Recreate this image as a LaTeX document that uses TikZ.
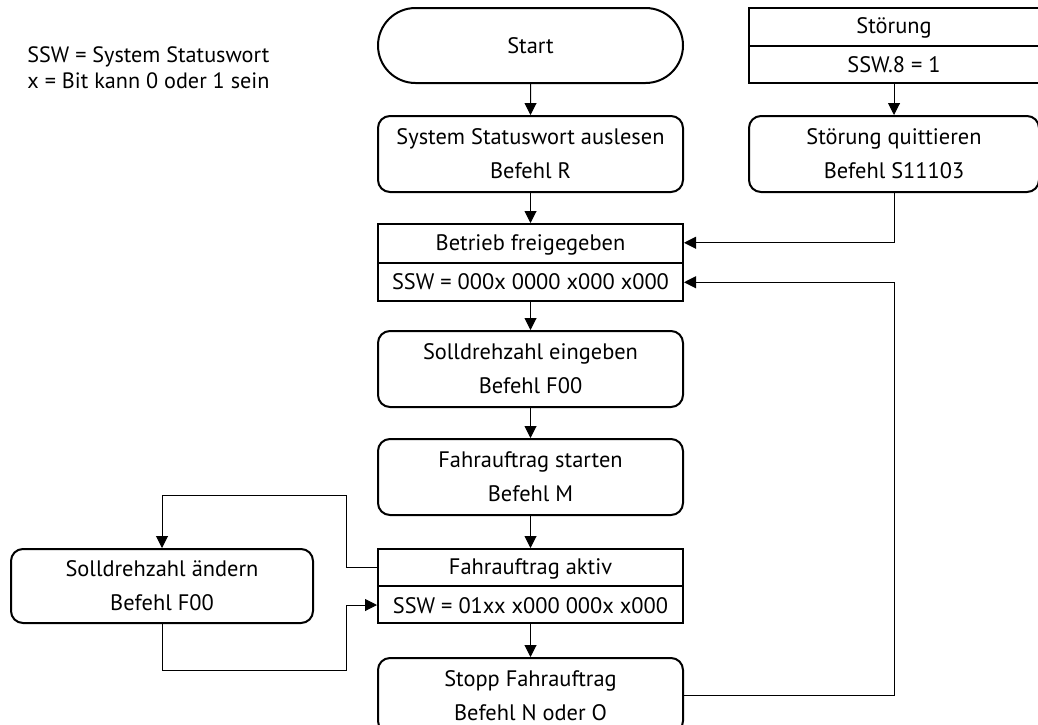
\documentclass[tikz,border=0pt]{standalone}
\usepackage{fontspec}
\setmainfont{PT Sans}
\usetikzlibrary{arrows.meta, positioning, calc, shapes.misc}

\begin{document}
\begin{tikzpicture}[
    node distance=15.5pt and 32pt,
    term/.style={draw, rounded rectangle, line width=1pt, inner sep=0pt,
                 minimum width=152.5pt, minimum height=37.5pt,
                 font=\fontsize{11.2}{17}\selectfont},
    proc/.style={draw, rectangle, rounded corners=6pt, align=center, line width=1pt,
                 minimum width=152.5pt, minimum height=38pt, inner sep=0pt,
                 font=\fontsize{11.2}{17}\selectfont},
    state/.style={draw, rectangle, align=center, line width=1pt,
                  minimum width=152.5pt, minimum height=38.5pt, inner sep=0pt,
                  font=\fontsize{11.2}{19.5}\selectfont},
    arrow/.style={-{Triangle[length=6pt, width=6pt]}, line width=0.5pt},
    legend/.style={align=left, inner sep=0pt, font=\fontsize{11.1}{13}\selectfont}
  ]
    \useasboundingbox (0,0) rectangle (519pt,-362pt);

    \node[legend, anchor=north west] (legende) at (13.5pt,-23pt)
      {SSW = System Statuswort\\x = Bit kann 0 oder 1 sein};

    \node[term] (start) at (265.25pt,-22.75pt) {Start};
    \node[proc, below=of start] (lesen)
      {System Statuswort auslesen\\Befehl R};
    \node[state, below=15pt of lesen] (betrieb)
      {Betrieb freigegeben\\SSW = 000x 0000 x000 x000};
    \node[proc, below=14pt of betrieb] (eingeben)
      {Solldrehzahl eingeben\\Befehl F00};
    \node[proc, below=15pt of eingeben] (starten)
      {Fahrauftrag starten\\Befehl M};
    \node[state, below=16pt of starten, minimum height=37pt] (aktiv)
      {Fahrauftrag aktiv\\SSW = 01xx x000 000x x000};
    \node[proc, below=16.5pt of aktiv, minimum height=37.5pt] (stopp)
      {Stopp Fahrauftrag\\Befehl N oder O};

    \node[state, right=32pt of start, minimum width=145pt, minimum height=37.5pt] (stoerung)
      {Störung\\SSW.8 = 1};
    \node[proc, below=of stoerung, minimum width=145pt] (quittieren)
      {Störung quittieren\\Befehl S11103};

    \node[proc, left=31.5pt of aktiv, minimum width=151pt, minimum height=37pt] (aendern)
      {Solldrehzahl ändern\\Befehl F00};

    \draw[line width=1pt] (betrieb.west) -- (betrieb.east);
    \draw[line width=1pt] (aktiv.west) -- (aktiv.east);
    \draw[line width=1pt] (stoerung.west) -- (stoerung.east);

    \coordinate (b-oben) at ($(betrieb.east)!0.5!(betrieb.north east)$);
    \coordinate (b-unten) at ($(betrieb.east)!0.5!(betrieb.south east)$);
    \coordinate (a-oben) at ($(aktiv.west)!0.5!(aktiv.north west)$);
    \coordinate (a-unten) at ($(aktiv.west)!0.5!(aktiv.south west)$);

    \draw[arrow] (start) -- (lesen);
    \draw[arrow] (lesen) -- (betrieb);
    \draw[arrow] (betrieb) -- (eingeben);
    \draw[arrow] (eingeben) -- (starten);
    \draw[arrow] (starten) -- (aktiv);
    \draw[arrow] (aktiv) -- (stopp);
    \draw[arrow] (stoerung) -- (quittieren);
    \draw[arrow] (quittieren.south) |- (b-oben);
    \draw[arrow] (stopp.east) -| (quittieren.south |- b-unten) -- (b-unten);
    \draw[arrow] (a-oben) -- ++(-15.5pt,0) |- ($(aendern.north)+(0,26.5pt)$) -- (aendern.north);
    \draw[arrow] (aendern.south) -- ++(0,-23pt) -| ($(a-unten)+(-15.5pt,0)$) -- (a-unten);
  \end{tikzpicture}
\end{document}
